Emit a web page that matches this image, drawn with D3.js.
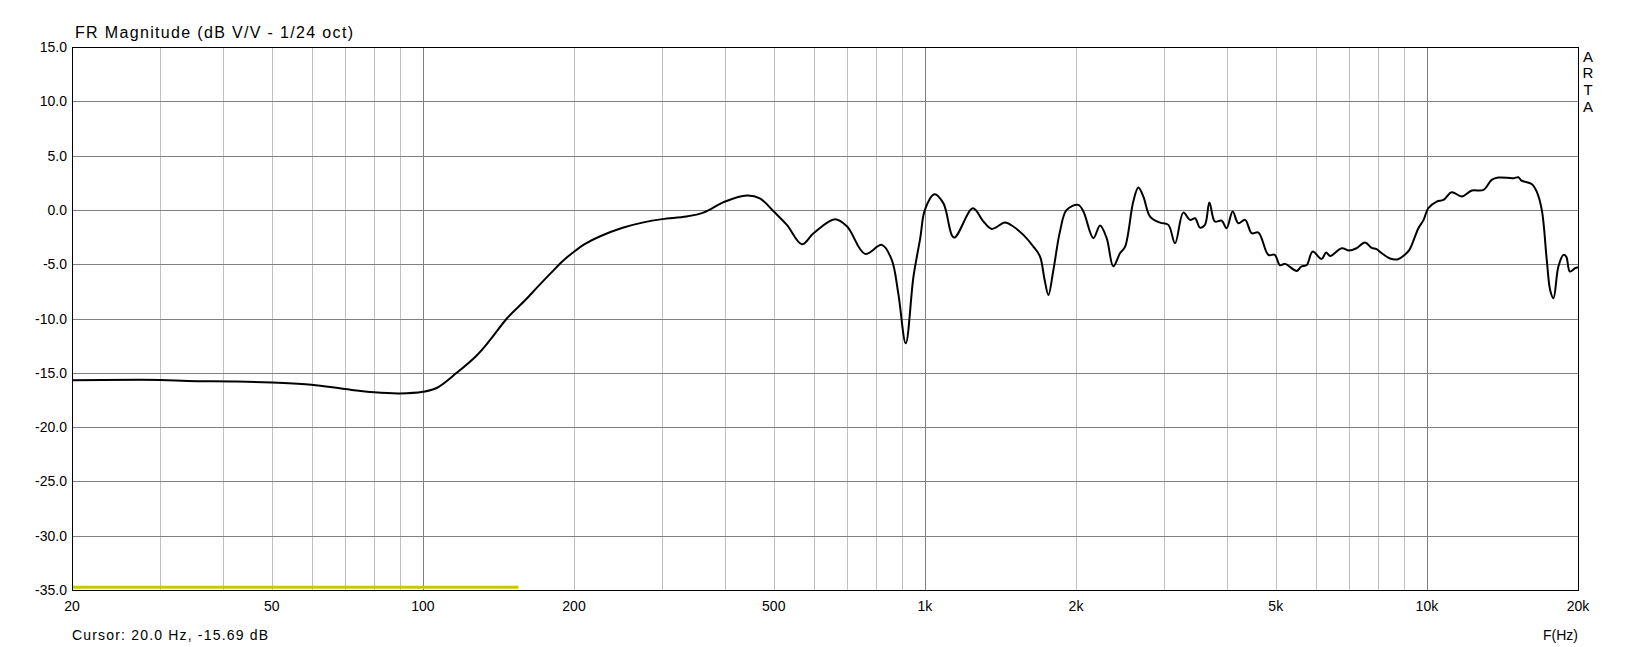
<!DOCTYPE html>
<html>
<head>
<meta charset="utf-8">
<script src="https://cdn.jsdelivr.net/npm/d3@7"></script>
<style>
  html, body { margin: 0; padding: 0; background: #ffffff; }
  svg { display: block; }
  text { font-family: "Liberation Sans", Arial, sans-serif; fill: #000; }
</style>
</head>
<body>
<svg id="chart" width="1650" height="647"></svg>
<script>
// ---- Data ----
const titleText = "FR Magnitude (dB V/V - 1/24 oct)";
const cursorText = "Cursor: 20.0 Hz, -15.69 dB";
const xAxisName = "F(Hz)";
const brandLetters = ["A", "R", "T", "A"];

const yTicks = [15, 10, 5, 0, -5, -10, -15, -20, -25, -30, -35];
const xLabelTicks = [20, 50, 100, 200, 500, 1000, 2000, 5000, 10000, 20000];
const xLabelText = ["20", "50", "100", "200", "500", "1k", "2k", "5k", "10k", "20k"];
const xDecadeLines = [100, 1000, 10000];
const xMinorLines = [30, 40, 50, 60, 70, 80, 90, 200, 300, 400, 500, 600, 700, 800, 900,
  2000, 3000, 4000, 5000, 6000, 7000, 8000, 9000];

const freqHz = [20, 30, 34, 42.6, 50, 60, 70, 80, 90, 100, 106.5, 116.8, 128, 136, 147, 160, 170, 180, 190, 200, 210,
  225, 250, 275, 300, 335, 362, 400, 442, 469, 500, 531, 569, 600, 662, 700, 760, 821, 859, 885, 916,
  949, 979, 1000, 1045, 1089, 1143, 1246, 1308, 1359, 1444, 1500, 1571, 1645, 1696, 1732, 1762, 1803, 1858, 1916, 2021,
  2069, 2166, 2233, 2302, 2373, 2447, 2505, 2601, 2662, 2724, 2809, 2941, 3055, 3150, 3272, 3373, 3454, 3531, 3613, 3688,
  3782, 3901, 3990, 4103, 4211, 4344, 4478, 4618, 4833, 4977, 5098, 5217, 5506, 5620, 5765, 5920, 6171, 6300, 6420, 6766,
  7000, 7240, 7530, 7760, 7940, 8130, 8444, 8760, 9030, 9230, 9618, 9850, 10060, 10460, 10790, 11205, 11737, 12290, 12960, 13460,
  13880, 14860, 15210, 15430, 16170, 16550, 16940, 17330, 17600, 17870, 18280, 18710, 18950, 19270, 19740, 20000];
const magnitudeDb = [-15.69, -15.66, -15.75, -15.8, -15.9, -16.1, -16.5, -16.8, -16.9, -16.75, -16.4, -15.0, -13.4, -12.0, -10.0, -8.3, -7.0, -5.8, -4.7, -3.85, -3.15,
  -2.45, -1.65, -1.15, -0.85, -0.61, -0.25, 0.77, 1.32, 1.07, -0.15, -1.38, -3.16, -2.15, -0.86, -1.53, -4.05, -3.22, -4.6, -7.67, -12.28,
  -6.14, -2.6, 0, 1.44, 0.6, -2.55, 0.15, -1.07, -1.75, -1.17, -1.53, -2.3, -3.38, -4.3, -6.45, -7.83, -5.53, -2.0, 0, 0.46,
  -0.15, -2.6, -1.44, -2.6, -5.2, -4.0, -3.38, 0.77, 2.06, 1.23, -0.61, -1.17, -1.38, -3.07, -0.25, -0.92, -0.77, -1.63, -1.38, 0.68,
  -1.07, -0.98, -1.69, -0.15, -1.23, -0.92, -2.15, -2.09, -4.14, -4.14, -5.1, -4.97, -5.62, -5.22, -5.07, -3.84, -4.51, -3.93, -4.24, -3.53,
  -3.74, -3.53, -3.0, -3.5, -3.62, -3.99, -4.48, -4.54, -4.14, -3.68, -1.69, -0.92, 0.15, 0.77, 0.92, 1.63, 1.23, 1.78, 1.84, 2.76,
  2.98, 2.92, 3.01, 2.7, 2.39, 1.69, 0, -4.6, -7.37, -8.13, -5.22, -4.14, -4.3, -5.68, -5.37, -5.28];

// cursor marker (yellow bar along the bottom)
const cursorMarkerHz = [20, 155];
const cursorMarkerDb = -34.75;

// ---- Layout ----
const plot = { left: 72, right: 1578, top: 47, bottom: 590 };
const svg = d3.select("#chart");

const x = d3.scaleLog().domain([20, 20000]).range([plot.left, plot.right]);
const y = d3.scaleLinear().domain([-35, 15]).range([plot.bottom, plot.top]);

const grid = svg.append("g").attr("shape-rendering", "crispEdges");

// minor vertical gridlines
grid.selectAll("line.minor").data(xMinorLines).enter().append("line")
  .attr("x1", d => Math.round(x(d)) + 0.5).attr("x2", d => Math.round(x(d)) + 0.5)
  .attr("y1", plot.top).attr("y2", plot.bottom)
  .attr("stroke", "#c0c0c0").attr("stroke-width", 1);

// horizontal gridlines
grid.selectAll("line.h").data(yTicks.slice(1, -1)).enter().append("line")
  .attr("x1", plot.left).attr("x2", plot.right)
  .attr("y1", d => Math.round(y(d)) + 0.5).attr("y2", d => Math.round(y(d)) + 0.5)
  .attr("stroke", "#808080").attr("stroke-width", 1);

// decade vertical lines
grid.selectAll("line.dec").data(xDecadeLines).enter().append("line")
  .attr("x1", d => Math.round(x(d)) + 0.5).attr("x2", d => Math.round(x(d)) + 0.5)
  .attr("y1", plot.top).attr("y2", plot.bottom)
  .attr("stroke", "#808080").attr("stroke-width", 1);

// cursor marker
svg.append("line")
  .attr("x1", x(cursorMarkerHz[0])).attr("x2", x(cursorMarkerHz[1]))
  .attr("y1", y(cursorMarkerDb)).attr("y2", y(cursorMarkerDb))
  .attr("stroke", "#c8c800").attr("stroke-width", 3);

// frame
svg.append("rect")
  .attr("x", plot.left + 0.5).attr("y", plot.top + 0.5)
  .attr("width", plot.right - plot.left).attr("height", plot.bottom - plot.top)
  .attr("fill", "none").attr("stroke", "#000").attr("stroke-width", 1.2)
  .attr("shape-rendering", "crispEdges");

// curve
const pts = freqHz.map((f, i) => [f, magnitudeDb[i]]);
const line = d3.line().x(d => x(d[0])).y(d => y(d[1])).curve(d3.curveCatmullRom.alpha(0.5));
svg.append("path").datum(pts)
  .attr("d", line).attr("fill", "none")
  .attr("stroke", "#000").attr("stroke-width", 2).attr("stroke-linejoin", "round");

// y labels
svg.selectAll("text.ylab").data(yTicks).enter().append("text")
  .attr("x", plot.left - 5).attr("y", d => y(d))
  .attr("dy", "0.36em").attr("text-anchor", "end")
  .style("font-size", "14px")
  .text(d => d.toFixed(1));

// x labels
svg.selectAll("text.xlab").data(xLabelTicks).enter().append("text")
  .attr("x", d => x(d)).attr("y", 611)
  .attr("text-anchor", "middle")
  .style("font-size", "14px")
  .text((d, i) => xLabelText[i]);

// title
svg.append("text").attr("x", 75).attr("y", 38)
  .style("font-size", "16px")
  .attr("textLength", 278).attr("lengthAdjust", "spacing")
  .text(titleText);

// cursor text
svg.append("text").attr("x", 72).attr("y", 640)
  .style("font-size", "14px")
  .attr("textLength", 196).attr("lengthAdjust", "spacing")
  .text(cursorText);

// axis name
svg.append("text").attr("x", plot.right).attr("y", 640)
  .attr("text-anchor", "end")
  .style("font-size", "14px")
  .text(xAxisName);

// ARTA vertical brand
svg.selectAll("text.brand").data(brandLetters).enter().append("text")
  .attr("x", 1588).attr("y", (d, i) => 61.7 + i * 16.7)
  .attr("text-anchor", "middle")
  .style("font-size", "15px")
  .text(d => d);
</script>
</body>
</html>
